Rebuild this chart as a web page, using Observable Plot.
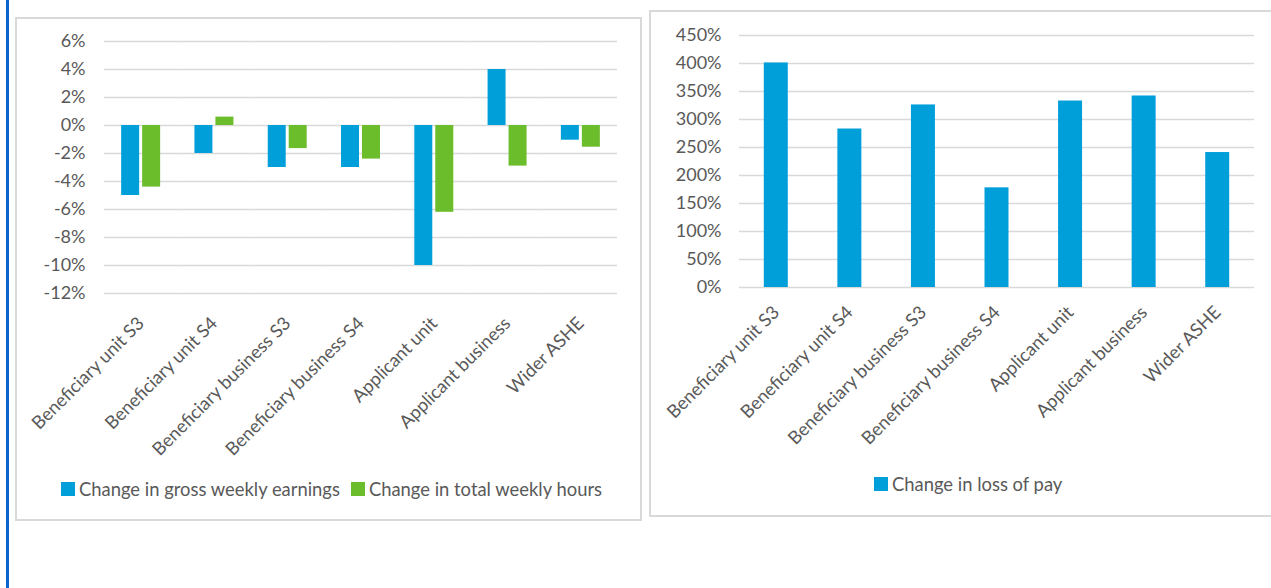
<!DOCTYPE html>
<html>
<head>
<meta charset="utf-8">
<script src="https://cdn.jsdelivr.net/npm/d3@7"></script>
<script src="https://cdn.jsdelivr.net/npm/@observablehq/plot@0.6"></script>
<style>
  html, body { margin: 0; padding: 0; background: #fff; width: 1271px; height: 588px; overflow: hidden; position: relative; font-family: Lato, "Open Sans", sans-serif; }
  .abs { position: absolute; }
  .panel { position: absolute; border: 2px solid #d9d9d9; box-sizing: border-box; pointer-events: none; }
  .legend { position: absolute; display: flex; align-items: center; font-size: 18.4px; color: #595959; white-space: nowrap; }
  .sw { display: inline-block; width: 14px; height: 14px; margin-right: 4px; }
</style>
</head>
<body>
<div class="abs" style="left:6px;top:0;width:3px;height:588px;background:#0b63ce"></div>
<div id="left" class="abs" style="left:0;top:0"></div>
<div id="right" class="abs" style="left:650px;top:0"></div>
<div class="panel" style="left:15px;top:17px;width:627px;height:504px"></div>
<div class="panel" style="left:649px;top:10px;width:700px;height:507px"></div>
<div id="legL" class="legend" style="left:61px;top:478px;height:22px"></div>
<div id="legR" class="legend" style="left:874px;top:473px;height:22px"></div>
<script>
const categories = ["Beneficiary unit S3", "Beneficiary unit S4", "Beneficiary business S3", "Beneficiary business S4", "Applicant unit", "Applicant business", "Wider ASHE"];
const seriesNames = ["Change in gross weekly earnings", "Change in total weekly hours"];
const earningsChange = [-5.0, -2.0, -3.0, -3.0, -10.0, 4.0, -1.05];
const hoursChange = [-4.4, 0.6, -1.65, -2.4, -6.2, -2.9, -1.55];
const lossOfPaySeries = ["Change in loss of pay"];
const lossOfPayChange = [401, 283, 326, 178, 333, 342, 241];
const leftTicks = [-12, -10, -8, -6, -4, -2, 0, 2, 4, 6];
const rightTicks = [0, 50, 100, 150, 200, 250, 300, 350, 400, 450];

const blue = "#009fda";
const green = "#6bbd2b";
const gridColor = "#d9d9d9";
const textColor = "#595959";
const pct = d => `${d}%`;

const leftRows = [];
categories.forEach((c, i) => {
  leftRows.push({category: c, series: seriesNames[0], value: earningsChange[i]});
  leftRows.push({category: c, series: seriesNames[1], value: hoursChange[i]});
});
const rightRows = categories.map((c, i) => ({category: c, value: lossOfPayChange[i]}));

const common = {fontFamily: "Lato, 'Open Sans', sans-serif", fontSize: "18px", color: textColor, background: "transparent", overflow: "visible"};

const left = Plot.plot({
  width: 641, height: 470,
  marginLeft: 104, marginRight: 24, marginTop: 41, marginBottom: 177,
  style: common,
  fx: {domain: categories, padding: 0, round: false, label: null, axis: null},
  x: {domain: seriesNames, axis: null, round: false, paddingInner: 0.143, paddingOuter: 0.817},
  y: {domain: [-12, 6], ticks: leftTicks, tickFormat: pct, tickSize: 0, tickPadding: 19, label: null},
  color: {domain: seriesNames, range: [blue, green]},
  marks: [
    Plot.ruleY(leftTicks, {stroke: gridColor, strokeWidth: 1.6}),
    Plot.barY(leftRows, {fx: "category", x: "series", y: "value", fill: "series"}),
    Plot.axisFx({anchor: "bottom", tickRotate: -45, tickSize: 0, tickPadding: 27, label: null, fontSize: 18.2, fill: textColor})
  ]
});
document.getElementById("left").appendChild(left);

const right = Plot.plot({
  width: 621, height: 470,
  marginLeft: 89, marginRight: 17, marginTop: 35, marginBottom: 183,
  style: common,
  x: {domain: categories, round: false, paddingInner: 0.674, paddingOuter: 0.337, label: null, axis: null},
  y: {domain: [0, 450], ticks: rightTicks, tickFormat: pct, tickSize: 0, tickPadding: 18, label: null},
  marks: [
    Plot.ruleY(rightTicks, {stroke: gridColor, strokeWidth: 1.6}),
    Plot.barY(rightRows, {x: "category", y: "value", fill: blue}),
    Plot.axisX({anchor: "bottom", tickRotate: -45, tickSize: 0, tickPadding: 22, label: null, fontSize: 18.2, fill: textColor})
  ]
});
document.getElementById("right").appendChild(right);

function legend(el, names, colors) {
  names.forEach((n, i) => {
    const item = document.createElement("span");
    item.style.display = "inline-flex";
    item.style.alignItems = "center";
    item.style.marginRight = i < names.length - 1 ? "11px" : "0";
    const sw = document.createElement("span");
    sw.className = "sw";
    sw.style.background = colors[i];
    const t = document.createElement("span");
    t.textContent = n;
    item.appendChild(sw); item.appendChild(t);
    el.appendChild(item);
  });
}
legend(document.getElementById("legL"), seriesNames, [blue, green]);
legend(document.getElementById("legR"), lossOfPaySeries, [blue]);
</script>
</body>
</html>
